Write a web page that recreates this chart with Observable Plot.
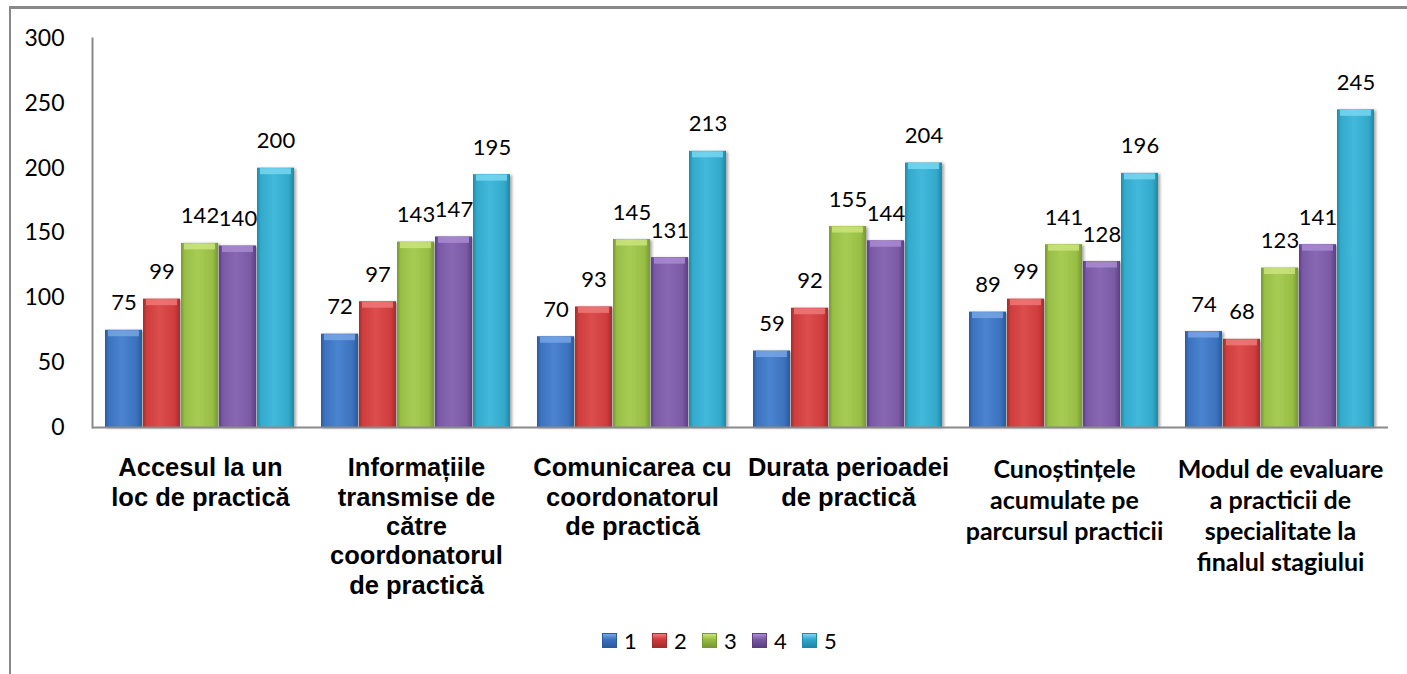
<!DOCTYPE html>
<html>
<head>
<meta charset="utf-8">
<script src="https://cdn.jsdelivr.net/npm/d3@7"></script>
<script src="https://cdn.jsdelivr.net/npm/@observablehq/plot@0.6"></script>
<style>
  html, body { margin: 0; padding: 0; background: #fff; }
  #wrap { position: relative; width: 1407px; height: 674px; overflow: hidden; background: #fff; }
  #frameTop { position: absolute; left: 9px; top: 6px; width: 1398px; height: 3px; background: #888888; z-index: 5; }
  #frameLeft { position: absolute; left: 9px; top: 6px; width: 2px; height: 668px; background: #888888; z-index: 5; }
  #chart { position: absolute; left: 0; top: 0; z-index: 1; }
  #chart g[aria-label="bar"] rect { filter: drop-shadow(2px 1px 1.5px rgba(0,0,0,0.35)); }
  #chart g[aria-label="frame"], #chart g[aria-label="frame"] * { stroke: #8a8a8a; stroke-width: 2px; }
  #legend { position: absolute; top: 627px; left: 602px; display: flex; align-items: center; z-index: 2;
            font-family: Lato, "Open Sans", sans-serif; font-size: 22px; color: #000; }
  .item { display: flex; align-items: center; width: 50px; }
  .sw { width: 15px; height: 15px; margin-right: 7px; box-sizing: border-box; position: relative; }
</style>
</head>
<body>
<div id="wrap">
  <div id="chart"></div>
  <div id="frameTop"></div>
  <div id="frameLeft"></div>
  <div id="legend"></div>
</div>
<script>
// ---- data ----
const categories = [
  "Accesul la un\nloc de practică",
  "Informațiile\ntransmise de\ncătre\ncoordonatorul\nde practică",
  "Comunicarea cu\ncoordonatorul\nde practică",
  "Durata perioadei\nde practică",
  "Cunoștințele\nacumulate pe\nparcursul practicii",
  "Modul de evaluare\na practicii de\nspecialitate la\nfinalul stagiului"
];
const series = ["1", "2", "3", "4", "5"];
const values1 = [75, 72, 70, 59, 89, 74];
const values2 = [99, 97, 93, 92, 99, 68];
const values3 = [142, 143, 145, 155, 141, 123];
const values4 = [140, 147, 131, 144, 128, 141];
const values5 = [200, 195, 213, 204, 196, 245];
const yTicks = [0, 50, 100, 150, 200, 250, 300];

// ---- styles ----
const darkC  = ["#2a5a9c", "#a52c2c", "#789832", "#5a3e84", "#1f89a8"];
const baseC  = ["#3c72be", "#cf3d3d", "#98be45", "#7a59a5", "#33a9cb"];
const lightC = ["#4a84d0", "#dc4d4d", "#a7cc55", "#8868b3", "#42b9da"];
const bevelC = ["#79a8e6", "#f07a7a", "#cde67f", "#ab8dd5", "#7ad9f2"];

const seriesValues = [values1, values2, values3, values4, values5];
const data = categories.flatMap((c, i) =>
  series.map((s, j) => ({ category: c, series: s, value: seriesValues[j][i] })));

const axisFont = { anchor: "bottom", tickSize: 0, label: null, fontWeight: "bold", fill: "#000" };

const chart = Plot.plot({
  width: 1407,
  height: 610,
  marginLeft: 92,
  marginRight: 19,
  marginTop: 38,
  marginBottom: 183,
  style: { fontFamily: "Lato, 'Open Sans', sans-serif", fontSize: "23px", color: "#000", background: "transparent", overflow: "visible" },
  fx: { domain: categories, padding: 0 },
  x: { domain: series, paddingInner: 0.02, paddingOuter: 0.3, axis: null },
  y: { domain: [0, 300], ticks: yTicks, tickSize: 0, tickPadding: 28, line: true, label: null, tickFormat: d => String(d) },
  color: { type: "ordinal", domain: series, range: series.map((s, i) => `url(#grad${i})`) },
  marks: [
    Plot.barY(data, { fx: "category", x: "series", y: "value", fill: "series" }),
    ...series.map((s, i) => Plot.tickY(data.filter(d => d.series === s), {
      fx: "category", x: "series", y: "value", stroke: bevelC[i], strokeWidth: 6, dy: 3, inset: 3, strokeOpacity: 0.8
    })),
    Plot.ruleY([0], { stroke: "#8a8a8a", strokeWidth: 2 }),
    Plot.text(data, { fx: "category", x: "series", y: "value", text: d => String(d.value), dy: -27, fontSize: 22, fill: "#000" }),
    Plot.axisFx({ ...axisFont, ticks: categories.slice(0, 4), tickPadding: 28, fontSize: 25.5, lineHeight: 1.15,
      fontFamily: "'Liberation Sans', Arial, sans-serif" }),
    Plot.axisFx({ ...axisFont, ticks: categories.slice(4), tickPadding: 28, fontSize: 25, lineHeight: 1.25,
      fontFamily: "Lato, 'Open Sans', sans-serif" })
  ]
});

// gradient definitions for the bevelled bars
const defs = d3.select(chart).insert("defs", ":first-child");
series.forEach((s, i) => {
  const g = defs.append("linearGradient").attr("id", `grad${i}`).attr("x1", 0).attr("x2", 1).attr("y1", 0).attr("y2", 0);
  [[0, darkC[i]], [0.1, baseC[i]], [0.45, lightC[i]], [0.85, baseC[i]], [1, darkC[i]]].forEach(([o, c]) =>
    g.append("stop").attr("offset", o).attr("stop-color", c));
});

document.getElementById("chart").appendChild(chart);

// legend
const legend = d3.select("#legend");
series.forEach((s, i) => {
  const it = legend.append("div").attr("class", "item");
  it.append("div").attr("class", "sw")
    .style("background", `linear-gradient(to bottom, ${bevelC[i]} 0%, ${baseC[i]} 40%, ${darkC[i]} 100%)`)
    .style("border", `1px solid ${darkC[i]}`);
  it.append("span").text(s);
});
</script>
</body>
</html>
